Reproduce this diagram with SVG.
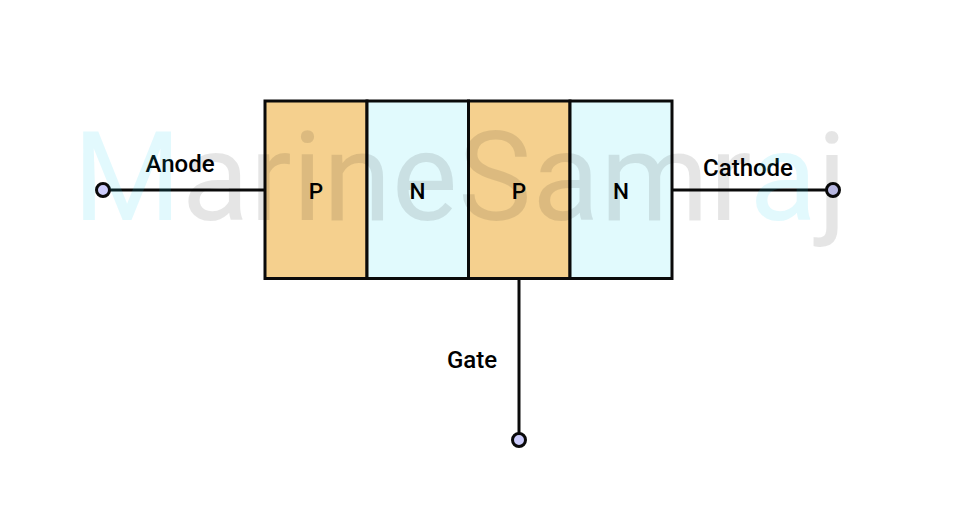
<svg xmlns="http://www.w3.org/2000/svg" width="968" height="508" viewBox="0 0 968 508">
<style>
.p{fill:#f5d08e}.n{fill:#e1fafd}
.cell{stroke:#0a0a0a;stroke-width:3}
.wire{stroke:#0a0a0a;stroke-width:3;fill:none}
.term{fill:#ccccfb;stroke:#0a0a0a;stroke-width:3}
text{font-family:Roboto,"Liberation Sans",sans-serif}
.lbl{font-size:24px;font-weight:500;fill:#000;text-anchor:middle}
.ltr{font-size:22.500px;font-weight:500;fill:#000;text-anchor:middle}
.wm{font-size:124px;font-weight:400;letter-spacing:.500px}
</style>
<rect width="968" height="508" fill="#fff"/>
<g id="connectors">
<line class="wire" x1="103" y1="190" x2="265" y2="190"/>
<line class="wire" x1="672" y1="190" x2="833" y2="190"/>
<line class="wire" x1="519" y1="279" x2="519" y2="440"/>
</g>
<g id="layer-p1"><rect class="cell p" x="265" y="101" width="102" height="177.500"/><text class="ltr" x="316" y="199">P</text></g>
<g id="layer-n1"><rect class="cell n" x="367" y="101" width="101.500" height="177.500"/><text class="ltr" x="417.500" y="199">N</text></g>
<g id="layer-p2"><rect class="cell p" x="468.500" y="101" width="101.500" height="177.500"/><text class="ltr" x="519" y="199">P</text></g>
<g id="layer-n2"><rect class="cell n" x="570" y="101" width="102" height="177.500"/><text class="ltr" x="621" y="199">N</text></g>
<g id="anode"><circle class="term" cx="103" cy="190" r="6.500"/><text class="lbl" x="180" y="172">Anode</text></g>
<g id="cathode"><circle class="term" cx="833" cy="190" r="6.500"/><text class="lbl" x="748" y="176">Cathode</text></g>
<g id="gate"><circle class="term" cx="519" cy="440" r="6.500"/><text class="lbl" x="472" y="368">Gate</text></g>
<text class="wm" x="73" y="220" fill="#000" fill-opacity=".1"><tspan fill="#21d4f3" fill-opacity=".13">M</tspan>arineSamr<tspan fill="#21d4f3" fill-opacity=".13">a</tspan>j</text>
</svg>
